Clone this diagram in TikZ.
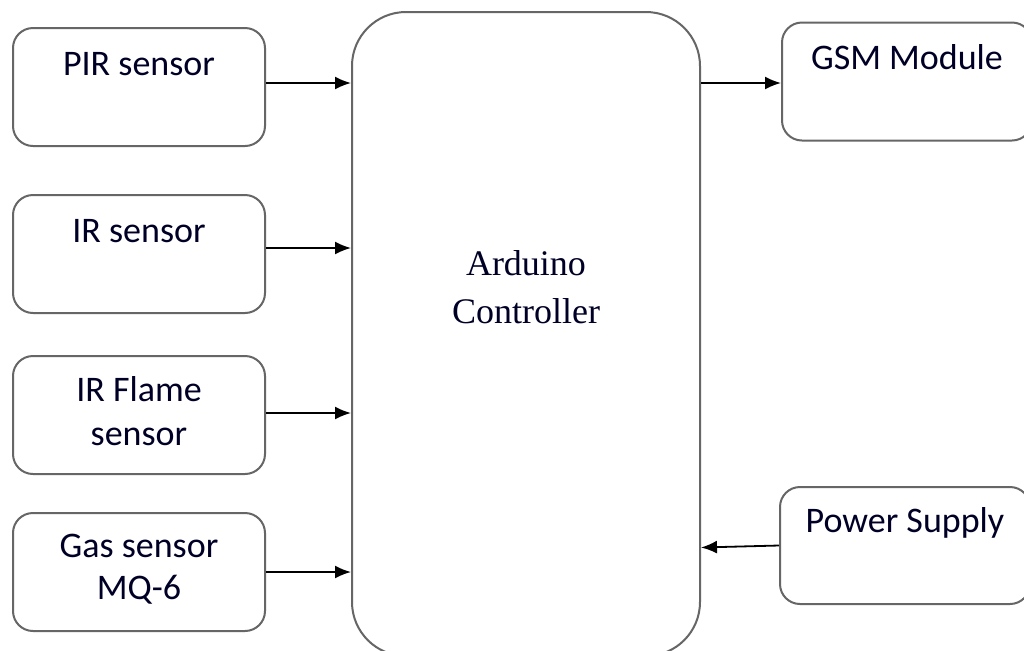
\documentclass[tikz,border=0pt]{standalone}
\usepackage{fontspec}
\setmainfont{Carlito}
\newfontfamily\ctrlfont{Liberation Serif}
\usetikzlibrary{arrows.meta}

\begin{document}
\begin{tikzpicture}[x=0.5pt,y=-0.5pt]
\tikzstyle{every node}+=[inner sep=0pt]
\tikzstyle{block}=[draw=black!60, line width=1pt, rounded corners=10pt, minimum width=126pt, minimum height=59pt]
\tikzstyle{blocktext}=[anchor=base, align=center, font=\fontsize{18}{22}\selectfont, text=black!85!blue]
\tikzstyle{link}=[line width=0.9pt, -{Latex[length=8pt,width=6.5pt]}]
\useasboundingbox (0,0) rectangle (1024,650);
\clip (0,0) rectangle (1024,650);
\fill [white] (0,0) rectangle (1024,650);
% controller
\node [block, rounded corners=27pt, minimum width=174pt, minimum height=322pt] (ard) at (526,334) {};
\node [blocktext, font=\ctrlfont\fontsize{18}{24}\selectfont] (ardtxt) at (526,323) {Arduino\\Controller};
% sensors
\node [block] (pir) at (139,87) {};
\node [blocktext] (pirtxt) at ([yshift=-24pt]pir.north) {PIR sensor};
\node [block] (ir) at (139,254) {};
\node [blocktext] (irtxt) at ([yshift=-24pt]ir.north) {IR sensor};
\node [block] (flame) at (139,415) {};
\node [blocktext] (flametxt) at ([yshift=-45pt]flame.north) {IR Flame\\sensor};
\node [block] (gas) at (139,572) {};
\node [blocktext, font=\fontsize{18}{21}\selectfont] (gastxt) at ([yshift=-43.5pt]gas.north) {Gas sensor\\MQ-6};
% outputs
\node [block, minimum width=125pt] (gsm) at (907,81.5) {};
\node [blocktext] (gsmtxt) at ([yshift=-24pt]gsm.north) {GSM Module};
\node [block, minimum width=125pt, minimum height=58.5pt] (pwr) at (905,545.5) {};
\node [blocktext] (pwrtxt) at ([yshift=-23pt]pwr.north) {Power Supply};
% links
\draw [link] ([yshift=2pt]pir.east) -- ([yshift=2pt]pir.east -| ard.west);
\draw [link] ([yshift=3pt]ir.east) -- ([yshift=3pt]ir.east -| ard.west);
\draw [link] ([yshift=1pt]flame.east) -- ([yshift=1pt]flame.east -| ard.west);
\draw [link] (gas.east) -- (gas.east -| ard.west);
\draw [link] ([yshift=-0.75pt]ard.east |- gsm.west) -- ([yshift=-0.75pt]gsm.west);
\draw [link] (pwr.west) -- ([yshift=-1pt]pwr.west -| ard.east);
\end{tikzpicture}
\end{document}
